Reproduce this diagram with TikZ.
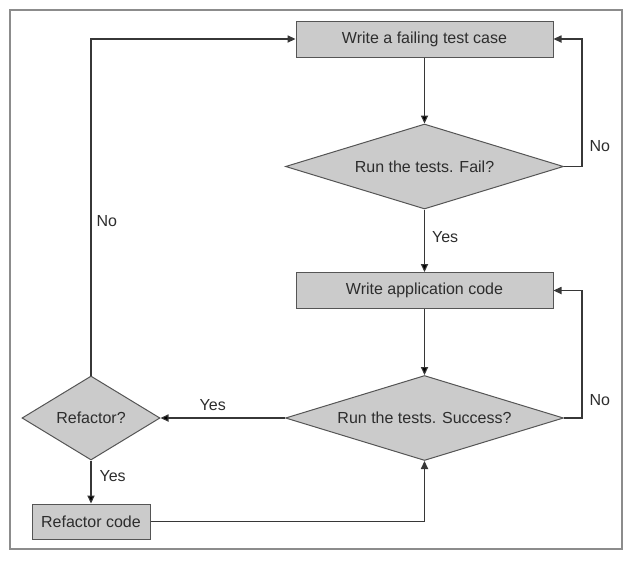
\documentclass[tikz,border=0pt]{standalone}
\usepackage{fontspec}
\setmainfont{Liberation Sans}
\usepackage{tikz}
\usetikzlibrary{positioning, arrows, arrows.meta}
\usetikzlibrary{shapes}

\definecolor{boxfill}{RGB}{203,203,203}
\definecolor{boxline}{RGB}{85,85,85}
\definecolor{linkline}{RGB}{55,55,55}
\definecolor{frameline}{RGB}{140,140,140}
\definecolor{textgray}{RGB}{45,45,45}

\begin{document}
\begin{tikzpicture}[x=0.5pt, y=-0.5pt, node distance=63.75pt, >={Triangle[length=4pt, width=3.6pt]},
    font=\fontsize{8}{9.6}\selectfont, text=textgray]
  \tikzstyle{process}=[draw=boxline, line width=0.5pt, fill=boxfill, rectangle, minimum width=128.5pt, minimum height=18pt, inner sep=0pt];
  \tikzstyle{decision}=[draw=boxline, line width=0.5pt, fill=boxfill, diamond, aspect=3.27, minimum width=139pt, minimum height=42.5pt, inner sep=0pt];
  \tikzstyle{link}=[draw=linkline, line width=0.55pt];
  \useasboundingbox (0,0) rectangle (632,563);
  \draw [frameline, line width=0.75pt] (10,10) rectangle (622,549);

  \node [process] at (424.5,39)            (WriteTest)    {Write a failing test case};
  \node [decision, below of= WriteTest]    (Fail)         {Run the tests. Fail?};
  \node [process, below of= Fail, node distance=62pt]          (WriteCode)    {Write application code};
  \node [decision, below of= WriteCode]    (Success)      {Run the tests. Success?};
  \node [decision, aspect=1.64, minimum width=69pt, minimum height=42pt, left of= Success, node distance=166.75pt] (Refactor) {Refactor?};
  \node [process, minimum width=59pt, minimum height=17.5pt, below of= Refactor, node distance=51.75pt] (RefactorCode) {Refactor code};

  \path[->, link] (WriteTest) edge (Fail);
  \path[->, link] (Fail) edge node[right, pos=0.44, inner sep=3.5pt]{Yes} (WriteCode);
  \path[->, link] (WriteCode) edge (Success);
  \path[->, link] (Success) edge node[above, pos=0.58]{Yes} (Refactor);
  \path[->, link] (Refactor) edge node[right, pos=0.36, inner sep=4pt]{Yes} (RefactorCode);

  \draw[->, link] (Fail.east) -- ++(18,0) |- node[right, pos=0.08, inner sep=3.5pt]{No} (WriteTest.east);
  \draw[->, link] (Success.east) -- ++(18,0) |- node[right, pos=0.07, inner sep=3.5pt]{No} (WriteCode.east);
  \draw[->, link] (Refactor.north) |- node[right, pos=0.23, inner sep=2.5pt]{No} (WriteTest.west);
  \draw[->, link] (RefactorCode.east) -| (Success.south);
\end{tikzpicture}
\end{document}
